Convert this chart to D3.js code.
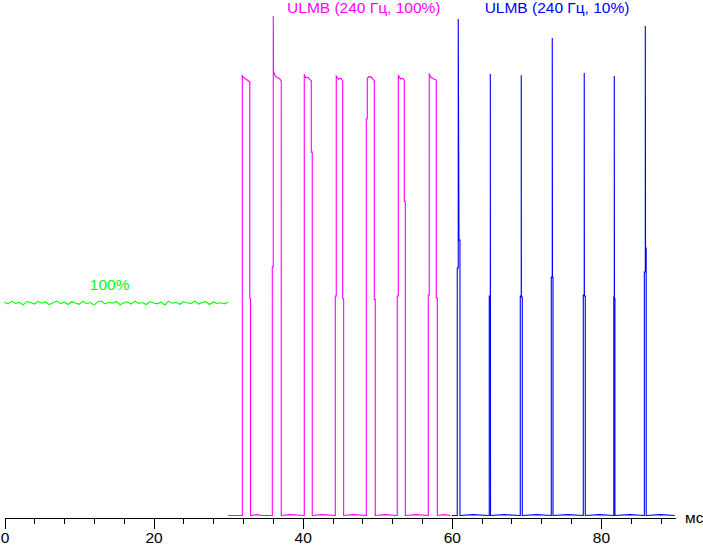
<!DOCTYPE html>
<html lang="ru">
<head>
<meta charset="UTF-8">
<title>ULMB</title>
<script src="https://d3js.org/d3.v7.min.js"></script>
<style>
  body { margin: 0; background: #fff; }
  svg { display: block; font-family: "Liberation Sans", Arial, sans-serif; }
  .line { fill: none; stroke-width: 1.1; }
  .axis path, .axis line { stroke: #000; shape-rendering: crispEdges; }
  .axis text { font-size: 15.5px; fill: #000; }
</style>
</head>
<body>
<svg width="703" height="545"></svg>
<script>
// time in ms, brightness in % of the steady 100% level
const greenStep = 0.5;
const greenValues = [
  100.4, 99.6, 100.9, 99.8, 100.3, 99.1, 100.7, 100.2, 99.5, 100.8,
  99.9, 100.5, 99.2, 100.1, 100.9, 99.7, 100.4, 99.3, 100.6, 100.0,
  99.4, 100.8, 99.8, 100.2, 99.0, 100.5, 100.9, 99.6, 100.3, 99.9,
  100.7, 99.2, 100.1, 100.6, 99.5, 100.9, 99.8, 100.2, 99.3, 100.7,
  100.0, 99.6, 100.4, 99.1, 100.8, 99.9, 100.3, 99.4, 100.6, 100.1,
  99.7, 100.9, 99.5, 100.2, 100.7, 99.3, 100.5, 99.8, 100.1, 99.6, 100.4
];

const magentaPoints = [
  [30, 0], [31.9, 0], [31.9, 207], [32.1, 206], [32.3, 205.5], [32.6, 204.8], [32.9, 204], [32.9, 102], [33.0, 102], [33.0, 0],
  [33.8, 0.4], [34.6, 0], [35.92, 0], [35.92, 117], [36.05, 117], [36.05, 235], [36.08, 209], [36.3, 207], [36.6, 206], [36.9, 205.5], [37.12, 204.5], [37.12, 0],
  [38.3, 0.4], [40.21, 0], [40.21, 207.6], [40.4, 206], [40.7, 206.2], [41.0, 205], [41.15, 204.5], [41.15, 171], [41.28, 171], [41.28, 0],
  [42.6, 0.4], [44.37, 0], [44.37, 103.3], [44.5, 103.3], [44.5, 206.7], [44.8, 205.3], [45.1, 205.8], [45.36, 204.5], [45.36, 102], [45.49, 102], [45.49, 0],
  [46.8, 0.4], [48.53, 0], [48.53, 186.6], [48.66, 186.6], [48.66, 205.9], [48.9, 206.5], [49.2, 206.3], [49.6, 204.5], [49.6, 101.7], [49.73, 101.7], [49.73, 0],
  [51.0, 0.4], [52.68, 0], [52.68, 103.3], [52.82, 103.3], [52.82, 207.3], [53.1, 205.4], [53.4, 205.8], [53.62, 204.8], [53.62, 147.9], [53.76, 147.9], [53.76, 0],
  [55.2, 0.4], [56.84, 0], [56.84, 103.8], [56.97, 103.8], [56.97, 207.6], [57.2, 206.2], [57.5, 205.5], [57.91, 204.9], [57.91, 102.4], [58.05, 102.4], [58.05, 0],
  [59.0, 0.4], [59.8, 0]
];

const bluePoints = [
  [60, 0], [60.73, 0], [60.73, 116.5], [60.86, 116.5], [60.86, 233.6], [60.96, 129.6], [61.09, 129.6], [61.09, 0],
  [62.8, 0.4], [65.02, 0], [65.02, 103.3], [65.16, 103.3], [65.16, 207.8], [65.19, 0],
  [67.1, 0.4], [69.18, 0], [69.18, 103.3], [69.31, 103.3], [69.31, 207.2], [69.33, 102.8], [69.45, 102.8], [69.45, 0],
  [71.4, 0.4], [73.34, 0], [73.34, 112.2], [73.47, 112.2], [73.47, 224.7], [73.5, 112], [73.57, 112], [73.57, 0],
  [75.6, 0.4], [77.63, 0], [77.63, 103.8], [77.76, 103.8], [77.76, 208.2], [77.78, 103.3], [77.9, 103.3], [77.9, 0],
  [79.8, 0.4], [81.72, 0], [81.72, 102.8], [81.79, 102.8], [81.79, 206.8], [81.81, 102], [81.88, 102], [81.88, 0],
  [83.9, 0.4], [85.82, 0], [85.82, 114.6], [85.95, 114.6], [85.95, 230.4], [85.98, 125.9], [86.07, 125.9], [86.07, 0],
  [88.0, 0.4], [89.9, 0]
];

const majorTicks = [0, 20, 40, 60, 80];
const minorTicks = [4, 8, 12, 16, 24, 28, 32, 36, 44, 48, 52, 56, 64, 68, 72, 76, 84, 88];

const labels = [
  { text: "100%", t: 14.1, color: "#00ff00", anchor: "middle", y: 290 },
  { text: "ULMB (240 Гц, 100%)", t: 37.9, color: "#ff00ff", anchor: "start", y: 13 },
  { text: "ULMB (240 Гц, 10%)", t: 64.4, color: "#0000ff", anchor: "start", y: 13 }
];

const svg = d3.select("svg");

const x = d3.scaleLinear().domain([0, 90]).range([4.5, 675.5]);
const y = d3.scaleLinear().domain([0, 240]).range([515.5, 5.5]);

const line = d3.line()
  .x(d => x(d[0]))
  .y(d => y(d[1]));

const greenPoints = greenValues.map((v, i) => [i * greenStep, v]);

svg.append("path").datum(greenPoints).attr("class", "line").attr("stroke", "#00ff00").attr("d", line);
svg.append("path").datum(magentaPoints).attr("class", "line").attr("stroke", "#ff00ff").attr("d", line);
svg.append("path").datum(bluePoints).attr("class", "line").attr("stroke", "#0000ff").attr("d", line);

// x axis
const axisY = 517.5;
svg.append("g")
  .attr("class", "axis")
  .attr("transform", `translate(0,${axisY})`)
  .call(d3.axisBottom(x).tickValues(minorTicks).tickSize(6).tickSizeOuter(0).tickFormat(""));
svg.append("g")
  .attr("class", "axis")
  .attr("transform", `translate(0,${axisY})`)
  .call(d3.axisBottom(x).tickValues(majorTicks).tickSize(11).tickSizeOuter(0).tickPadding(3.5).tickFormat(d3.format("d")));

svg.append("text")
  .attr("x", 685)
  .attr("y", 523)
  .attr("font-size", 15.5)
  .text("мс");

svg.selectAll(".label")
  .data(labels)
  .join("text")
  .attr("class", "label")
  .attr("x", d => x(d.t))
  .attr("y", d => d.y)
  .attr("text-anchor", d => d.anchor)
  .attr("fill", d => d.color)
  .attr("font-size", 15.5)
  .text(d => d.text);
</script>
</body>
</html>
